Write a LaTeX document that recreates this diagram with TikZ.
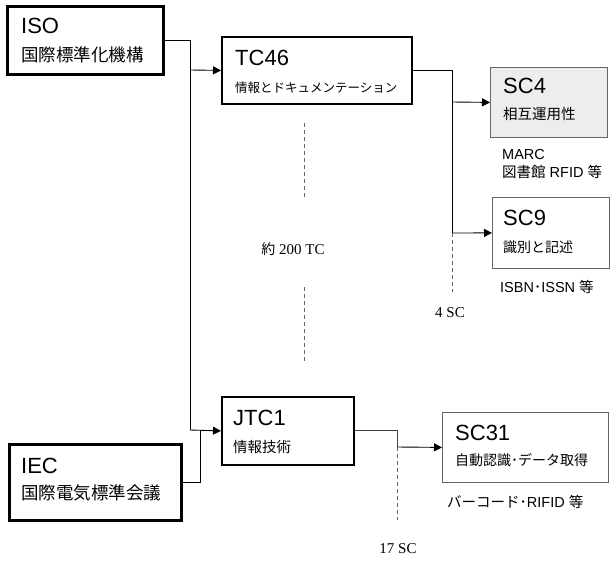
\documentclass[tikz,border=0pt]{standalone}
\usepackage{fontspec}
\newfontfamily\ar{Liberation Sans}
\newfontfamily\jp{Noto Sans CJK JP}
\newfontfamily\sr{Liberation Serif}
\usetikzlibrary{arrows.meta}
\newcommand{\fs}[1]{\fontsize{#1}{#1}\selectfont}
\begin{document}
\begin{tikzpicture}[x=1pt,y=-1pt,
  boxthick/.style={draw,line width=3pt,inner sep=0pt,anchor=north west},
  boxmid/.style={draw,line width=1.8pt,inner sep=0pt,anchor=north west},
  boxthin/.style={draw=black!60,line width=0.8pt,inner sep=0pt,anchor=north west},
  ttl/.style={anchor=base west,inner sep=0pt,font=\ar\fs{22}},
  sub/.style={anchor=base west,inner sep=0pt},
  note/.style={anchor=base west,inner sep=0pt,font=\ar\fs{14.5}},
  cnt/.style={anchor=base,inner sep=0pt,font=\sr\fs{15}},
  conn/.style={line width=0.9pt},
  arr/.style={line width=0.9pt,-{Triangle[length=8pt,width=8pt]}},
  dsh/.style={line width=0.8pt,black!60,dash pattern=on 4pt off 3pt}]
\useasboundingbox (0,0) rectangle (616,565);
% boxes
\node[boxthick,minimum width=156pt,minimum height=68pt] (iso) at (6,5) {};
\node[boxthick,minimum width=172pt,minimum height=76pt] (iec) at (8,443) {};
\node[boxmid,minimum width=190pt,minimum height=67pt] (tc46) at (221,36) {};
\node[boxmid,minimum width=132pt,minimum height=68pt] (jtc1) at (221,396) {};
\node[boxthin,fill=black!7,minimum width=117pt,minimum height=70pt] (sc4) at (490,67) {};
\node[boxthin,minimum width=117pt,minimum height=71pt] (sc9) at (492,197) {};
\node[boxthin,minimum width=166pt,minimum height=70pt] (sc31) at (442,412) {};
% texts
\node[ttl] (isot) at (21,33) {ISO};
\node[sub,font=\jp\fs{17.5}] (isos) at (21,61) {国際標準化機構};
\node[ttl] (iect) at (21,473) {IEC};
\node[sub,font=\jp\fs{17.5}] (iecs) at (21,499) {国際電気標準会議};
\node[ttl] (tc46t) at (235,65) {TC46};
\node[sub,font=\jp\fs{12.5}] (tc46s) at (235,92) {情報とドキュメンテーション};
\node[ttl] (jtc1t) at (233,425) {JTC1};
\node[sub,font=\jp\fs{14.5}] (jtc1s) at (233,452) {情報技術};
\node[ttl] (sc4t) at (503,93) {SC4};
\node[sub,font=\jp\fs{14.5}] (sc4s) at (503,119) {相互運用性};
\node[ttl] (sc9t) at (503,225) {SC9};
\node[sub,font=\jp\fs{14}] (sc9s) at (503,252) {識別と記述};
\node[ttl] (sc31t) at (455,440) {SC31};
\node[sub,font=\jp\fs{14}] (sc31s) at (455,465) {自動認識･データ取得};
\node[note] (marc) at (502,159) {MARC};
\node[note] (lib) at (502,177) {{\jp 図書館} RFID {\jp 等}};
\node[note] (isbn) at (500,292) {ISBN{\jp ･}ISSN {\jp 等}};
\node[note] (bar) at (447,507) {{\jp バーコード･}RIFID {\jp 等}};
\node[cnt] (tcnum) at (293,254) {{\jp\fs{14}約} 200 TC};
\node[cnt] (sc4n) at (450,317) {4 SC};
\node[cnt] (sc17n) at (398,553) {17 SC};
% junctions
\coordinate (j1) at (190,70);
\coordinate (j2) at (190,430);
\coordinate (j3) at (200,430);
\coordinate (k1) at (452,102);
\coordinate (k2) at (452,233);
\coordinate (k2e) at (452,292);
\coordinate (k3) at (397,447);
\coordinate (k3e) at (397,520);
\coordinate (m1) at (304,123);
\coordinate (m2) at (304,198);
\coordinate (m3) at (304,287);
\coordinate (m4) at (304,362);
% connectors
\draw[conn] (iso.east) -| (j2);
\draw[arr] (j1) -- (tc46.west);
\draw[arr] (j2) -- (jtc1.west);
\draw[conn] (iec.east) -| (j3);
\draw[conn] (tc46.east) -| (k2);
\draw[arr] (k1) -- (sc4.west);
\draw[arr] (k2) -- (sc9.west);
\draw[dsh] (k2) -- (k2e);
\draw[conn,black!75] (jtc1.east) -| (k3);
\draw[arr] (k3) -- (sc31.west);
\draw[dsh] (k3) -- (k3e);
\draw[dsh] (m1) -- (m2);
\draw[dsh] (m3) -- (m4);
\end{tikzpicture}
\end{document}
